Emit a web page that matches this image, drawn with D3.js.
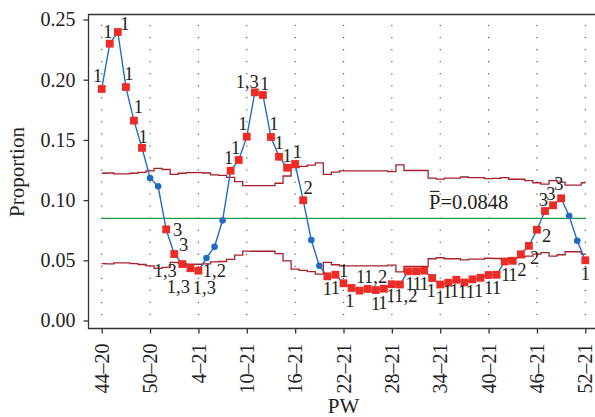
<!DOCTYPE html>
<html>
<head>
<meta charset="utf-8">
<script src="https://cdn.jsdelivr.net/npm/d3@7"></script>
<style>
  html, body { margin: 0; padding: 0; background: #fff; }
  svg { display: block; font-family: "Liberation Serif", "Times New Roman", serif; }
</style>
</head>
<body>
<svg id="chart" width="595" height="417"></svg>
<script>
// Weekly proportion (P chart), week 44 of 2020 to week 52 of 2021
const tickWeeks = ["44\u201320", "50\u201320", "4\u201321", "10\u201321", "16\u201321", "22\u201321",
                   "28\u201321", "34\u201321", "40\u201321", "46\u201321", "52\u201321"];

const proportion = [
  0.1923, 0.2299, 0.2396, 0.1939, 0.1660, 0.1434, 0.1184, 0.1115, 0.0757, 0.0552,
  0.0469, 0.0434, 0.0414, 0.0519, 0.0613, 0.0832, 0.1244, 0.1333, 0.1527, 0.1895,
  0.1873, 0.1524, 0.1360, 0.1269, 0.1300, 0.0999, 0.0669, 0.0455, 0.0367, 0.0380,
  0.0309, 0.0270, 0.0248, 0.0262, 0.0253, 0.0264, 0.0301, 0.0299, 0.0409, 0.0409,
  0.0414, 0.0353, 0.0299, 0.0314, 0.0338, 0.0316, 0.0342, 0.0355, 0.0378, 0.0380,
  0.0490, 0.0496, 0.0550, 0.0620, 0.0754, 0.0909, 0.0957, 0.1015, 0.0868, 0.0662,
  0.0500
];

const upperLimit = [
  0.1223, 0.1225, 0.1217, 0.1217, 0.1223, 0.1231, 0.1242, 0.1263, 0.1254, 0.1213,
  0.1223, 0.1229, 0.1229, 0.1225, 0.1209, 0.1206, 0.1188, 0.1153, 0.1120, 0.1121,
  0.1121, 0.1121, 0.1140, 0.1200, 0.1270, 0.1280, 0.1290, 0.1310, 0.1213, 0.1233,
  0.1242, 0.1242, 0.1242, 0.1242, 0.1242, 0.1242, 0.1236, 0.1292, 0.1246, 0.1246,
  0.1246, 0.1183, 0.1175, 0.1183, 0.1183, 0.1192, 0.1186, 0.1186, 0.1179, 0.1181,
  0.1186, 0.1173, 0.1173, 0.1161, 0.1144, 0.1133, 0.1161, 0.1150, 0.1125, 0.1125,
  0.1144
];

const lowerLimit = [
  0.0473, 0.0471, 0.0479, 0.0479, 0.0473, 0.0465, 0.0454, 0.0433, 0.0442, 0.0483,
  0.0473, 0.0467, 0.0467, 0.0471, 0.0487, 0.0490, 0.0508, 0.0543, 0.0576, 0.0575,
  0.0575, 0.0575, 0.0556, 0.0496, 0.0426, 0.0416, 0.0406, 0.0386, 0.0483, 0.0463,
  0.0454, 0.0454, 0.0454, 0.0454, 0.0454, 0.0454, 0.0460, 0.0404, 0.0450, 0.0450,
  0.0450, 0.0513, 0.0521, 0.0513, 0.0513, 0.0504, 0.0510, 0.0510, 0.0517, 0.0515,
  0.0510, 0.0523, 0.0523, 0.0535, 0.0552, 0.0563, 0.0535, 0.0546, 0.0571, 0.0571,
  0.0552
];

const pBar = 0.0848;

// Failed tests for each flagged week: [week index, tests]
const testLabels = [
  [0, "1"], [1, "1"], [2, "1"], [3, "1"], [4, "1"], [5, "1"],
  [8, "3"], [9, "3"], [10, "1,3"], [11, "1,3"], [12, "1,3"], [12, "1,2"],
  [16, "1"], [17, "1"], [18, "1"], [19, "1,3"], [20, "1"], [21, "1"], [22, "1"],
  [23, "1"], [24, "1"], [25, "2"],
  [28, "1"], [29, "1"], [30, "1"], [31, "1"], [32, "1"], [33, "1,2"], [34, "1"],
  [35, "1"], [36, "1"], [37, "1,2"], [38, "1"], [39, "1"], [40, "1"], [41, "1"],
  [42, "1"], [43, "1"], [44, "1"], [45, "1"], [46, "1"], [47, "1"], [48, "1"],
  [49, "1"], [50, "1"], [51, "1"], [52, "2"], [53, "2"], [54, "2"],
  [55, "3"], [56, "3"], [57, "3"], [60, "1"]
];

// Where each test label sits around its point (text centre, px)
const labelOffsets = [
  [-4, -13], [-2, -12], [7, -8], [3, -13.5], [4.5, -14], [1, -11],
  [11.5, 0], [9.5, -10], [-17, 6], [-12, 18], [6, 17], [16, 0],
  [-2, -13.5], [-3, -12], [-4, -13.4], [-7.6, -10.6], [1.7, -11], [3, -13.7], [0, -14.4],
  [0, -12], [2.3, -12.3], [5, -13],
  [0, 12], [0, 13], [0, -13], [-1.7, 12.5], [1, -14], [8, -12.5], [0, 13],
  [-1, 13.5], [-1, 11.5], [6, 11.5], [2, 12], [1, 12], [0, 12.5], [-1, 12.5],
  [0, 13], [-1, 9], [-2, 11], [-2, 9], [-2, 12], [-2, 13], [0, 13],
  [0, 13], [1, 13.5], [0, 14], [1, 15], [5.7, 11.7], [9.7, 5.7],
  [-1.7, -12], [-2.3, -11.7], [-2.3, -14.3], [0, 13]
];

const flagged = new Set(testLabels.map(d => d[0]));

const svg = d3.select("#chart");
const W = 595, H = 417;
const frame = { left: 88.5, top: 14.5, bottom: 328.5 };

const x = d3.scaleLinear().domain([0, proportion.length - 1]).range([101.7, 585.3]);
const y = d3.scaleLinear().domain([0, 0.25]).range([320.5, 19.5]);

const tickIdx = tickWeeks.map((_, i) => i * 6);

// dotted vertical guides at each labelled week
const gridY = d3.range(0.005, 0.25, 0.01);
const grid = svg.append("g").attr("fill", "#555");
tickIdx.forEach(t => {
  grid.selectAll(null).data(gridY).join("rect")
    .attr("x", x(t) - 0.6).attr("y", d => y(d) - 0.6)
    .attr("width", 1.2).attr("height", 1.2);
});

// frame
const axisColor = "#333";
svg.append("path")
  .attr("d", `M${W},${frame.top}H${frame.left}V${frame.bottom}H${W}`)
  .attr("fill", "none").attr("stroke", axisColor).attr("stroke-width", 1.3);

// y axis
const yAxis = svg.append("g")
  .attr("transform", `translate(${frame.left},0)`)
  .call(d3.axisLeft(y).tickValues([0, 0.05, 0.10, 0.15, 0.20, 0.25])
    .tickFormat(d3.format(".2f")).tickSize(5).tickPadding(8));
yAxis.select(".domain").remove();
yAxis.selectAll("line").attr("stroke", axisColor).attr("stroke-width", 1.3);
yAxis.selectAll("text").attr("font-size", 20).attr("fill", "#222")
  .attr("font-family", "Liberation Serif, serif");

// x axis
const xAxis = svg.append("g")
  .attr("transform", `translate(0,${frame.bottom})`)
  .call(d3.axisBottom(x).tickValues(tickIdx)
    .tickFormat((d, i) => tickWeeks[i]).tickSize(5).tickPadding(10));
xAxis.select(".domain").remove();
xAxis.selectAll("line").attr("stroke", axisColor).attr("stroke-width", 1.3);
xAxis.selectAll("text")
  .attr("font-size", 20).attr("fill", "#222")
  .attr("font-family", "Liberation Serif, serif")
  .attr("text-anchor", "end")
  .attr("transform", "rotate(-90)")
  .attr("x", -15).attr("y", 0).attr("dy", "0.33em");

// axis titles
svg.append("text")
  .attr("transform", `translate(24,${(y(0) + y(0.25)) / 2 + 2}) rotate(-90)`)
  .attr("text-anchor", "middle").attr("font-size", 21).attr("fill", "#222")
  .text("Proportion");
svg.append("text")
  .attr("x", (x(0) + x(60)) / 2).attr("y", 413)
  .attr("text-anchor", "middle").attr("font-size", 21).attr("fill", "#222")
  .text("PW");

// control limits
const limitLine = d3.line().x((d, i) => x(i)).y(d => y(d)).curve(d3.curveStep);
[upperLimit, lowerLimit].forEach(arr => {
  svg.append("path").attr("d", limitLine(arr))
    .attr("fill", "none").attr("stroke", "#a5212b").attr("stroke-width", 1.3);
});

// centre line
svg.append("line")
  .attr("x1", x(0)).attr("x2", x(proportion.length - 1))
  .attr("y1", y(pBar)).attr("y2", y(pBar))
  .attr("stroke", "#1c9e3c").attr("stroke-width", 1.4);

const pLabel = svg.append("text")
  .attr("x", 429).attr("y", y(pBar) - 9)
  .attr("font-size", 20.5).attr("fill", "#222");
pLabel.append("tspan").attr("class", "pbar").text("P");
pLabel.append("tspan").text("=" + pBar.toFixed(4));
const pNode = pLabel.select(".pbar").node();
const pW = pNode.getComputedTextLength();
svg.append("line")
  .attr("x1", 429 + 1).attr("x2", 429 + pW - 1)
  .attr("y1", y(pBar) - 27).attr("y2", y(pBar) - 27)
  .attr("stroke", "#222").attr("stroke-width", 1.1);

// proportion series
const seriesLine = d3.line().x((d, i) => x(i)).y(d => y(d));
svg.append("path").attr("d", seriesLine(proportion))
  .attr("fill", "none").attr("stroke", "#1f6cc2").attr("stroke-width", 1.4);

const pts = proportion.map((v, i) => ({ i, v }));
svg.append("g").selectAll("circle")
  .data(pts.filter(d => !flagged.has(d.i))).join("circle")
  .attr("cx", d => x(d.i)).attr("cy", d => y(d.v)).attr("r", 3.3)
  .attr("fill", "#1f6cc2");

const sq = 7.8;
svg.append("g").selectAll("rect")
  .data(pts.filter(d => flagged.has(d.i))).join("rect")
  .attr("x", d => x(d.i) - sq / 2).attr("y", d => y(d.v) - sq / 2)
  .attr("width", sq).attr("height", sq)
  .attr("fill", "#ee2b24");

// test labels
svg.append("g").selectAll("text")
  .data(testLabels).join("text")
  .attr("x", (d, k) => x(d[0]) + labelOffsets[k][0])
  .attr("y", (d, k) => y(proportion[d[0]]) + labelOffsets[k][1])
  .attr("dy", "0.35em")
  .attr("text-anchor", "middle")
  .attr("font-size", 18.5).attr("fill", "#222")
  .text(d => d[1]);
</script>
</body>
</html>
